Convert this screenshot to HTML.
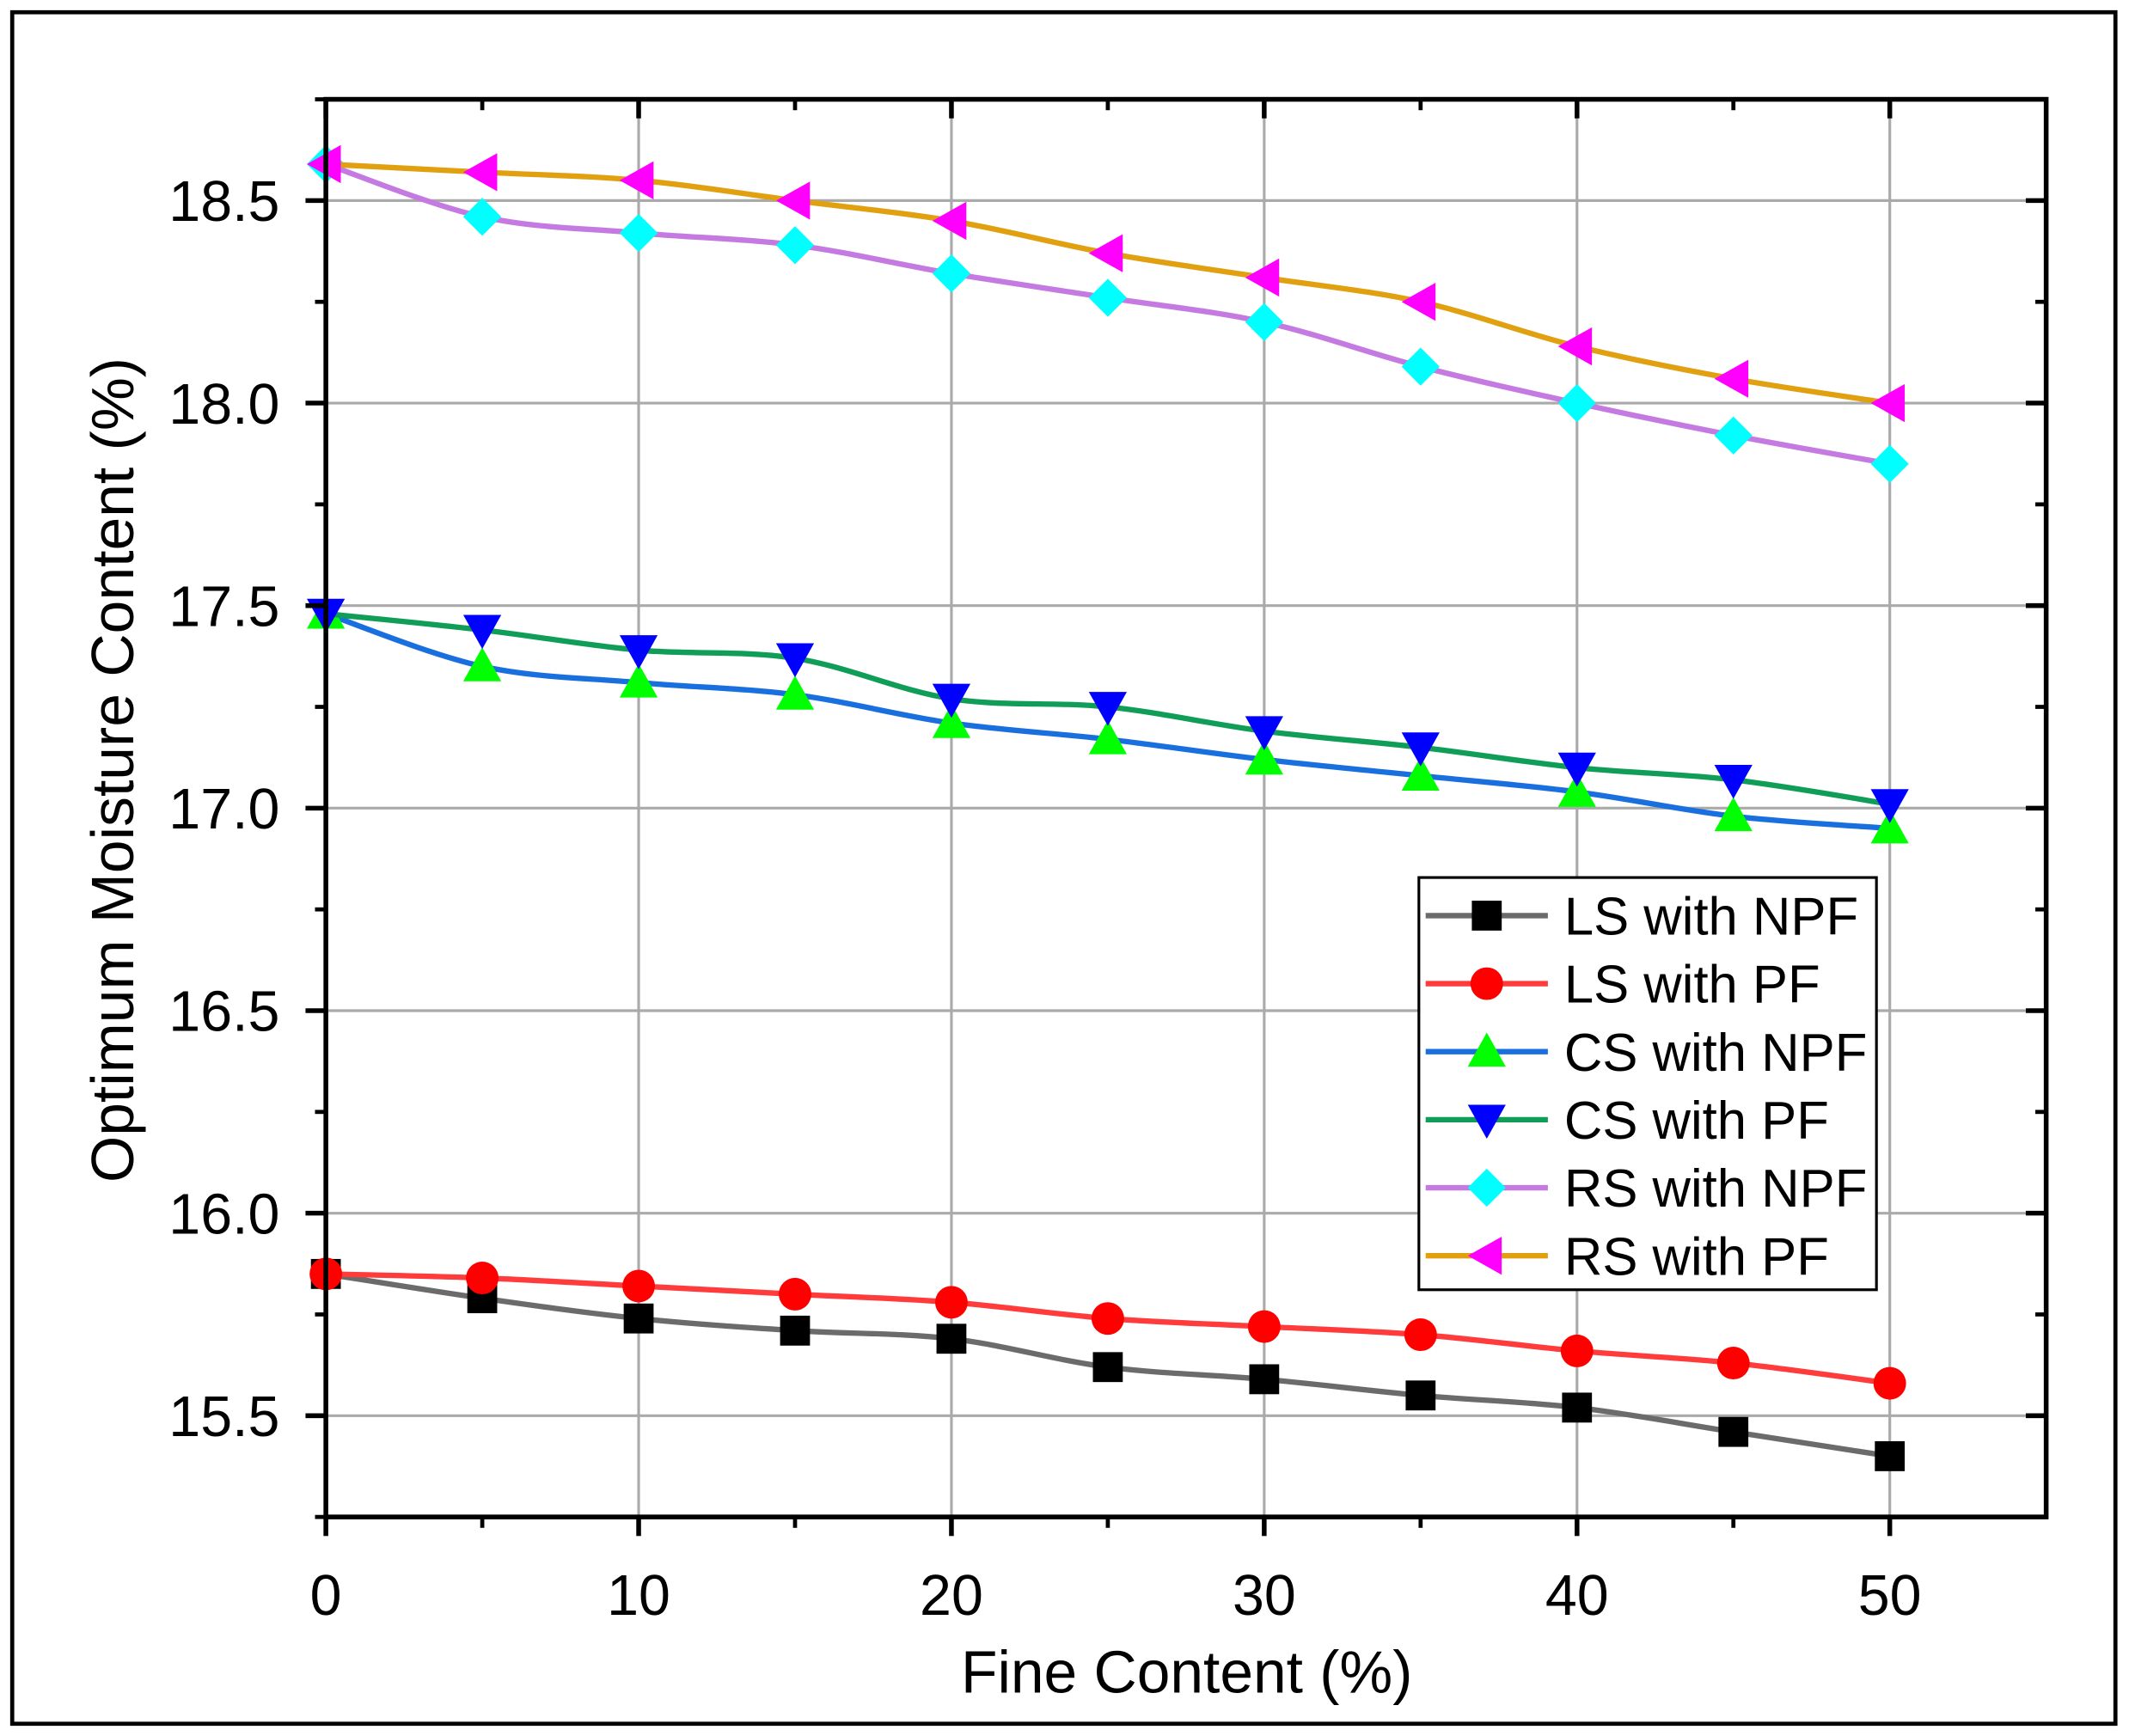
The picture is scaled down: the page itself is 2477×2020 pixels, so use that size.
<!DOCTYPE html>
<html><head><meta charset="utf-8"><style>html,body{margin:0;padding:0;background:#fff}svg{display:block}</style></head>
<body>
<svg id="chart" width="2477" height="2020" viewBox="0 0 1568 1276" preserveAspectRatio="none" xmlns="http://www.w3.org/2000/svg" font-family="Liberation Sans, Arial, sans-serif">
<rect x="9" y="9" width="1549" height="1258" fill="none" stroke="#000" stroke-width="3"/>
<g id="grid"></g><g id="series"></g><g id="axes"></g><g id="legend"></g>
</svg>
<script>
const xValues=[0,5,10,15,20,25,30,35,40,45,50];
const lsNpf=[15.85,15.79,15.74,15.71,15.69,15.62,15.59,15.55,15.52,15.46,15.40];
const lsPf=[15.85,15.84,15.82,15.80,15.78,15.74,15.72,15.70,15.66,15.63,15.58];
const csNpf=[17.48,17.35,17.31,17.28,17.21,17.17,17.12,17.08,17.04,16.98,16.95];
const csPf=[17.48,17.44,17.39,17.37,17.27,17.25,17.19,17.15,17.10,17.07,17.01];
const rsNpf=[18.59,18.46,18.42,18.39,18.32,18.26,18.20,18.09,18.00,17.92,17.85];
const rsPf=[18.59,18.57,18.55,18.50,18.45,18.37,18.31,18.25,18.14,18.06,18.00];
const xTicks=[0,10,20,30,40,50];
const yTicks=[15.5,16.0,16.5,17.0,17.5,18.0,18.5];
const seriesNames=["LS with NPF","LS with PF","CS with NPF","CS with PF","RS with NPF","RS with PF"];

const L=240,R=1507,T=73,B=1115,X0=0,X1=55,Y0=15.25,Y1=18.75;
const sx=v=>L+(v-X0)/(X1-X0)*(R-L);
const sy=v=>B-(v-Y0)/(Y1-Y0)*(B-T);
const NS="http://www.w3.org/2000/svg";
function mk(tag,attrs,parent){const e=document.createElementNS(NS,tag);for(const k in attrs)e.setAttribute(k,attrs[k]);parent.appendChild(e);return e;}
const grid=document.getElementById('grid'),axes=document.getElementById('axes'),ser=document.getElementById('series'),leg=document.getElementById('legend');

for(const t of xTicks){if(t===0)continue;const g=mk('line',{x1:sx(t),x2:sx(t),y1:T,y2:B,stroke:'#aaa','stroke-width':2},grid);

}
for(const t of yTicks){const g=mk('line',{x1:L,x2:R,y1:sy(t),y2:sy(t),stroke:'#aaa','stroke-width':2},grid);

}

const styles=[
 {data:lsNpf,line:'#6b6b6b',mk:'square',fill:'#000'},
 {data:lsPf,line:'#ff3b3b',mk:'circle',fill:'#ff0000'},
 {data:csNpf,line:'#1a6fdf',mk:'up',fill:'#00ff00'},
 {data:csPf,line:'#0f9d58',mk:'down',fill:'#0000ff'},
 {data:rsNpf,line:'#c47ae0',mk:'diamond',fill:'#00ffff'},
 {data:rsPf,line:'#e0a010',mk:'left',fill:'#ff00ff'}];
function marker(type,x,y,fill,parent){
 const s=11;let e;
 if(type==='square')e=mk('rect',{x:x-s,y:y-s,width:2*s,height:2*s,fill},parent);
 else if(type==='circle')e=mk('circle',{cx:x,cy:y,r:s+1,fill},parent);
 else{let p;
  if(type==='up')p=[[x,y-s-3],[x+s+3,y+s],[x-s-3,y+s]];
  if(type==='down')p=[[x,y+s+3],[x+s+3,y-s],[x-s-3,y-s]];
  if(type==='left')p=[[x-s-3,y],[x+s,y-s-3],[x+s,y+s+3]];
  if(type==='diamond')p=[[x,y-s-3],[x+s+3,y],[x,y+s+3],[x-s-3,y]];
  e=mk('polygon',{points:p.map(q=>q.join(',')).join(' '),fill},parent);}
 return e;}
function smooth(pts){let d=`M${pts[0][0]},${pts[0][1]}`;
 for(let i=0;i<pts.length-1;i++){const p0=pts[Math.max(0,i-1)],p1=pts[i],p2=pts[i+1],p3=pts[Math.min(pts.length-1,i+2)];
  d+=` C${p1[0]+(p2[0]-p0[0])/6},${p1[1]+(p2[1]-p0[1])/6} ${p2[0]-(p3[0]-p1[0])/6},${p2[1]-(p3[1]-p1[1])/6} ${p2[0]},${p2[1]}`;}
 return d;}
styles.forEach((st,i)=>{
 const g=mk('g',{},ser);
 
 
 const pts=xValues.map((x,j)=>[sx(x),sy(st.data[j])]);
 const p=mk('path',{d:smooth(pts),fill:'none',stroke:st.line,'stroke-width':4},g);
 
 
 pts.forEach(q=>{const m=marker(st.mk,q[0],q[1],st.fill,g);
  
  });
});

mk('rect',{x:L,y:T,width:R-L,height:B-T,fill:'none',stroke:'#000','stroke-width':3.5},axes);
for(const t of xTicks){
 mk('line',{x1:sx(t),x2:sx(t),y1:B,y2:B+14,stroke:'#000','stroke-width':3.5},axes);
 mk('line',{x1:sx(t),x2:sx(t),y1:T,y2:T+14,stroke:'#000','stroke-width':3.5},axes);
 const tx=mk('text',{x:sx(t),y:B+72,'text-anchor':'middle','font-size':42},axes);tx.textContent=t;
 
 }
for(let t=5;t<55;t+=10){
 mk('line',{x1:sx(t),x2:sx(t),y1:B,y2:B+8,stroke:'#000','stroke-width':3},axes);
 mk('line',{x1:sx(t),x2:sx(t),y1:T,y2:T+8,stroke:'#000','stroke-width':3},axes);}
for(const t of yTicks){
 mk('line',{x1:L-15,x2:L,y1:sy(t),y2:sy(t),stroke:'#000','stroke-width':3.5},axes);
 mk('line',{x1:R-15,x2:R,y1:sy(t),y2:sy(t),stroke:'#000','stroke-width':3.5},axes);
 const tx=mk('text',{x:L-34,y:sy(t)+15,'text-anchor':'end','font-size':42},axes);tx.textContent=t.toFixed(1);
 
 }
for(let t=15.25;t<18.8;t+=0.5){
 mk('line',{x1:L-8,x2:L,y1:sy(t),y2:sy(t),stroke:'#000','stroke-width':3},axes);
 mk('line',{x1:R-8,x2:R,y1:sy(t),y2:sy(t),stroke:'#000','stroke-width':3},axes);}
let xt=mk('text',{x:874,y:1244,'text-anchor':'middle','font-size':44},axes);xt.textContent='Fine Content (%)';


let yt=mk('text',{x:0,y:0,'text-anchor':'middle','font-size':44,transform:`translate(98,566) rotate(-90)`},axes);yt.textContent='Optimum Moisture Content (%)';



const lb=mk('rect',{x:1045,y:645,width:337,height:303,fill:'#fff',stroke:'#000','stroke-width':2},leg);


styles.forEach((st,i)=>{
 const y=673+i*50;const g=mk('g',{},leg);
 
 
 mk('line',{x1:1050,x2:1140,y1:y,y2:y,stroke:st.line,'stroke-width':4},g);
 marker(st.mk,1095,y,st.fill,g);
 const t=mk('text',{x:1152,y:y+14,'font-size':39},g);t.textContent=seriesNames[i];});
</script>
</body></html>
